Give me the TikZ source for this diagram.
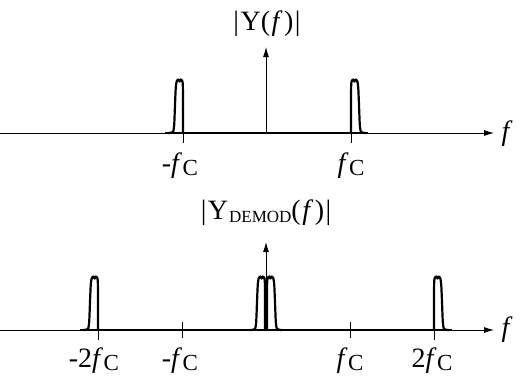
\documentclass[tikz,border=0pt]{standalone}
\usepackage{fontspec}
\setmainfont{Liberation Serif}
\usetikzlibrary{arrows.meta}
\newcommand{\fcsub}{\textit{f}\kern0.5pt\raisebox{-3pt}{\fontsize{23}{23}\selectfont C}}
\tikzset{
  axisline/.style={line width=0.9pt},
  baseline/.style={line width=2pt},
  pulseline/.style={line width=2.2pt, line join=round, line cap=round},
  axarrow/.style={-{Latex[length=10pt,width=6pt]}, line width=0.9pt},
  ticksty/.style={line width=0.8pt},
  lbl/.style={font=\fontsize{28}{30}\selectfont, inner sep=0pt},
  pics/pulse/.style={code={
    \draw[pulseline] plot[smooth, tension=0.4] coordinates {
      (0,0) (0,-30) (0.2,-49) (1,-52.5) (2.2,-53.5) (3.4,-51.5) (4.8,-53.5) (6.2,-52) (7.2,-46) (8,-28) (8.8,-8) (9.8,-1.5) (11.5,-0.3) (15,0)};
  }}
}
\begin{document}
\begin{tikzpicture}[x=1pt,y=-1pt]
\useasboundingbox (0,0) rectangle (530,381);
% ---------- top panel ----------
\coordinate (tl) at (0,133);
\coordinate (tr) at (494,133);
\draw[axarrow] (tl) -- (tr);
\draw[baseline] (165,133) -- (368,133);
\coordinate (t0) at (266,133);
\coordinate (ttop) at (266,47);
\draw[axarrow] (t0) -- (ttop);
\node[lbl] (ty) at (267,24) {|\kern1.5pt Y(\kern1.5pt\textit{f}\kern1.5pt)\kern1.5pt|};
\node[lbl] (tf) at (507,134) {\textit{f}};
% ticks
\draw[ticksty] (183,133) -- (183,143);
\draw[ticksty] (351,133) -- (351,143);
\node[lbl] (tmfc) at (180,166) {-\fcsub};
\node[lbl] (tfc) at (351,166) {\fcsub};
% pulses
\pic[xscale=-1] at (183,133) {pulse};
\pic at (351,133) {pulse};
% ---------- bottom panel ----------
\coordinate (bl) at (0,330);
\coordinate (br) at (494,330);
\draw[axarrow] (bl) -- (br);
\draw[baseline] (80,330) -- (452,330);
\coordinate (b0) at (266,330);
\coordinate (btop) at (266,242);
\draw[axarrow] (b0) -- (btop);
\node[lbl] (by) at (266,213) {|\kern1.5pt Y\kern1pt\raisebox{-3pt}{\fontsize{17}{17}\selectfont DEMOD}(\kern1.5pt\textit{f}\kern1.5pt)\kern1.5pt|};
\node[lbl] (bf) at (507,330) {\textit{f}};
% ticks
\draw[ticksty] (98,330) -- (98,340);
\draw[ticksty] (182,322) -- (182,338);
\draw[ticksty] (350,322) -- (350,338);
\draw[ticksty] (434,330) -- (434,340);
\node[lbl] (bm2fc) at (94,361) {-2\fcsub};
\node[lbl] (bmfc) at (180,361) {-\fcsub};
\node[lbl] (bfc) at (350,361) {\fcsub};
\node[lbl] (b2fc) at (432,361) {2\fcsub};
% pulses
\pic[xscale=-1] at (98,330) {pulse};
\pic[xscale=-1] at (265,330) {pulse};
\pic at (267,330) {pulse};
\pic at (434,330) {pulse};
\end{tikzpicture}
\end{document}
